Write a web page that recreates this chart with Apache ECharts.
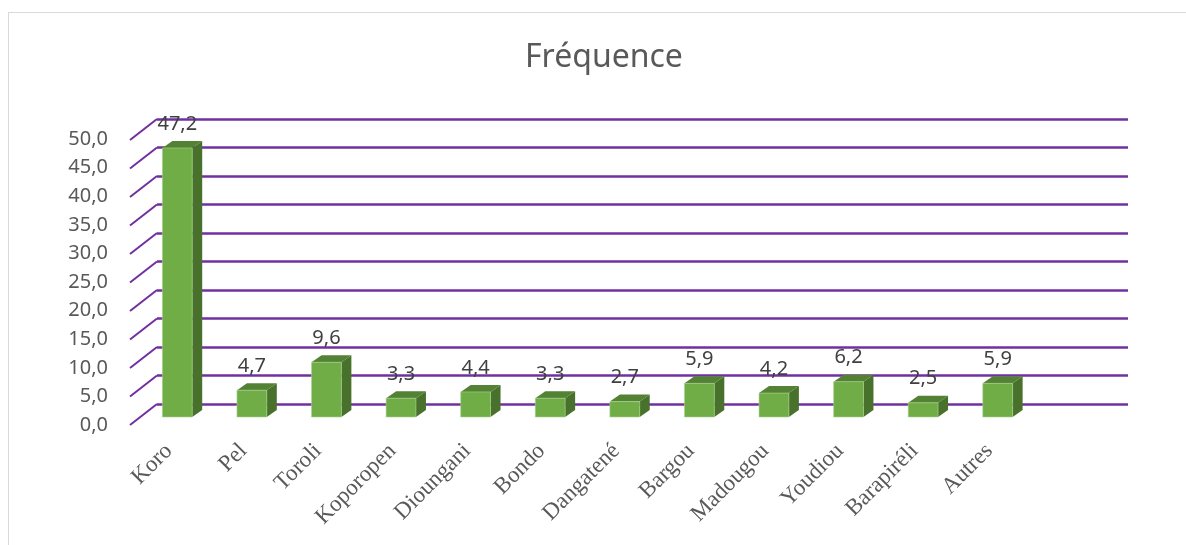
<!DOCTYPE html>
<html>
<head>
<meta charset="utf-8">
<script src="https://cdn.jsdelivr.net/npm/echarts@6/dist/echarts.min.js"></script>
<style>
html,body{margin:0;padding:0;background:#fff;}
#frame{position:absolute;left:8px;top:12px;width:1200px;height:600px;border-left:1px solid #D9D9D9;border-top:1px solid #D9D9D9;}
#c{position:absolute;left:0;top:0;width:1186px;height:545px;}
</style>
</head>
<body>
<div id="frame"></div>
<div id="c"></div>
<script>
const titleText = 'Fréquence';
const categories = ['Koro','Pel','Toroli','Koporopen','Dioungani','Bondo','Dangatené','Bargou','Madougou','Youdiou','Barapiréli','Autres'];
const frequence = [47.2, 4.7, 9.6, 3.3, 4.4, 3.3, 2.7, 5.9, 4.2, 6.2, 2.5, 5.9];
const yTicks = [0, 5, 10, 15, 20, 25, 30, 35, 40, 45, 50];

const fmt = v => v.toFixed(1).replace('.', ',');
const PURPLE = '#7030A0';
const DEPTH_X = 10, DEPTH_Y = 7;        // bar depth
const DIAG_X = 27, DIAG_Y = 21;         // floor-wall depth for grid lines

const chart = echarts.init(document.getElementById('c'), null, {renderer: 'canvas'});

chart.setOption({
  animation: false,
  backgroundColor: 'transparent',
  title: {
    text: titleText, left: 520, top: 37,
    textStyle: {fontFamily: 'Noto Sans', fontSize: 32, fontWeight: 'normal', color: '#595959'}
  },
  grid: [
    {left: 140, right: 151, top: 132, bottom: 128},
    {left: 157, right: 58, top: 119, bottom: 141},
    {left: 130, right: 58, top: 139, bottom: 120}
  ],
  xAxis: [
    {gridIndex: 0, type: 'category', data: categories, boundaryGap: true,
      axisLine: {show: false}, axisTick: {show: false},
      axisLabel: {rotate: 45, margin: 22, interval: 0, padding: [0, 12, 0, 0],
        fontFamily: 'Liberation Serif', fontSize: 23, color: '#595959'}},
    {gridIndex: 1, type: 'value', min: 0, max: 1, show: false},
    {gridIndex: 2, type: 'value', min: 0, max: 1, show: false}
  ],
  yAxis: [
    {gridIndex: 0, type: 'value', min: 0, max: 50, interval: 5, show: false},
    {gridIndex: 1, type: 'value', min: 0, max: 50, interval: 5,
      axisLine: {show: false}, axisTick: {show: false}, axisLabel: {show: false},
      splitLine: {show: true, lineStyle: {color: PURPLE, width: 2.5}}},
    {gridIndex: 2, type: 'value', min: 0, max: 50, interval: 5,
      axisLine: {show: false}, axisTick: {show: false}, splitLine: {show: false},
      axisLabel: {margin: 22, formatter: v => fmt(v), fontFamily: 'Noto Sans', fontSize: 20, color: '#595959'}}
  ],
  series: [
    {
      type: 'custom', xAxisIndex: 1, yAxisIndex: 1, z: 1,
      data: yTicks.map(v => [0, v]),
      renderItem: (params, api) => {
        const p = api.coord([0, api.value(1)]);
        return {type: 'line', shape: {x1: p[0] - DIAG_X, y1: p[1] + DIAG_Y, x2: p[0], y2: p[1]},
          style: {stroke: PURPLE, lineWidth: 2}};
      }
    },
    {
      type: 'custom', xAxisIndex: 0, yAxisIndex: 0, z: 5,
      data: frequence.map((v, i) => [i, v]),
      renderItem: (params, api) => {
        const base = api.coord([api.value(0), 0]);
        const top = api.coord([api.value(0), api.value(1)]);
        const bw = api.size([1, 0])[0] * 0.4;
        const x0 = base[0] - bw / 2, x1 = base[0] + bw / 2;
        const yb = base[1], yt = top[1];
        return {type: 'group', children: [
          {type: 'polygon', shape: {points: [[x1, yb], [x1 + DEPTH_X, yb - DEPTH_Y], [x1 + DEPTH_X, yt - DEPTH_Y], [x1, yt]]},
            style: {fill: '#48712B'}},
          {type: 'polygon', shape: {points: [[x0, yt], [x0 + DEPTH_X, yt - DEPTH_Y], [x1 + DEPTH_X, yt - DEPTH_Y], [x1, yt]]},
            style: {fill: '#548235'}},
          {type: 'rect', shape: {x: x0, y: yt, width: bw, height: yb - yt},
            style: {fill: '#70AD47', stroke: '#A9D18E', lineWidth: 0.6}},
          {type: 'text', x: base[0], y: yt - 14,
            style: {text: fmt(api.value(1)), align: 'center', verticalAlign: 'bottom',
              fontFamily: 'Noto Sans', fontSize: 20, fill: '#404040'}}
        ]};
      }
    }
  ]
});
</script>
</body>
</html>
